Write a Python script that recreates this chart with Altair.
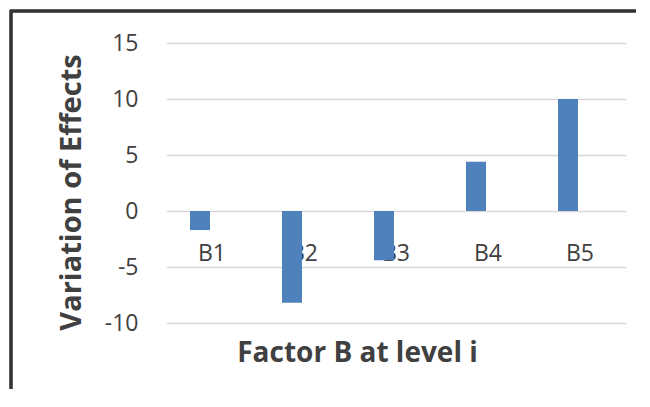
import altair as alt
import pandas as pd

categories = ["B1", "B2", "B3", "B4", "B5"]
values = [-1.7, -8.2, -4.4, 4.4, 10.0]

df = pd.DataFrame({"factor": categories, "effect": values})

FONT = "Open Sans"
TXT = "#404040"

bars = alt.Chart(df).mark_bar(color="#4f81bd", width=20, xOffset=-12).encode(
    x=alt.X("factor:N", sort=categories, title="Factor B at level i",
            scale=alt.Scale(paddingInner=0, paddingOuter=0),
            axis=alt.Axis(labelAngle=0, domain=False, ticks=False, offset=-112,
                          labelPadding=31, labelFontSize=23, labelColor=TXT,
                          labelFont=FONT, titleFont=FONT, titleFontSize=28,
                          titleFontWeight="bold", titleColor=TXT,
                          titlePadding=74, titleX=191, titleAlign="center",
                          grid=False)),
    y=alt.Y("effect:Q", title="Variation of Effects",
            scale=alt.Scale(domain=[-10, 15], nice=False),
            axis=alt.Axis(values=[-10, -5, 0, 5, 10, 15], domain=False, ticks=False,
                          labelExpr="datum.value + ''",
                          labelFontSize=23, labelColor=TXT, labelFont=FONT,
                          labelPadding=28, gridColor="#d9d9d9", gridWidth=1.5,
                          titleFont=FONT, titleFontSize=29, titleFontWeight="bold",
                          titleColor=TXT, titlePadding=18, titleY=149)),
)

frame_top = alt.Chart(df).mark_rule(stroke="#333333", strokeWidth=2.5).encode(
    x=alt.value(-156), x2=alt.value(470), y=alt.value(-32)
)
frame_left = alt.Chart(df).mark_rule(stroke="#333333", strokeWidth=2.5).encode(
    x=alt.value(-155), y=alt.value(-33), y2=alt.value(346)
)

chart = alt.layer(frame_top, frame_left, bars).properties(
    width=460, height=280,
    autosize=alt.AutoSizeParams(type="none"),
    padding={"left": 158, "top": 35, "right": 16, "bottom": 70},
).configure_view(strokeWidth=0)

chart.save("out.html", embed_options={"renderer": "svg", "actions": False})
